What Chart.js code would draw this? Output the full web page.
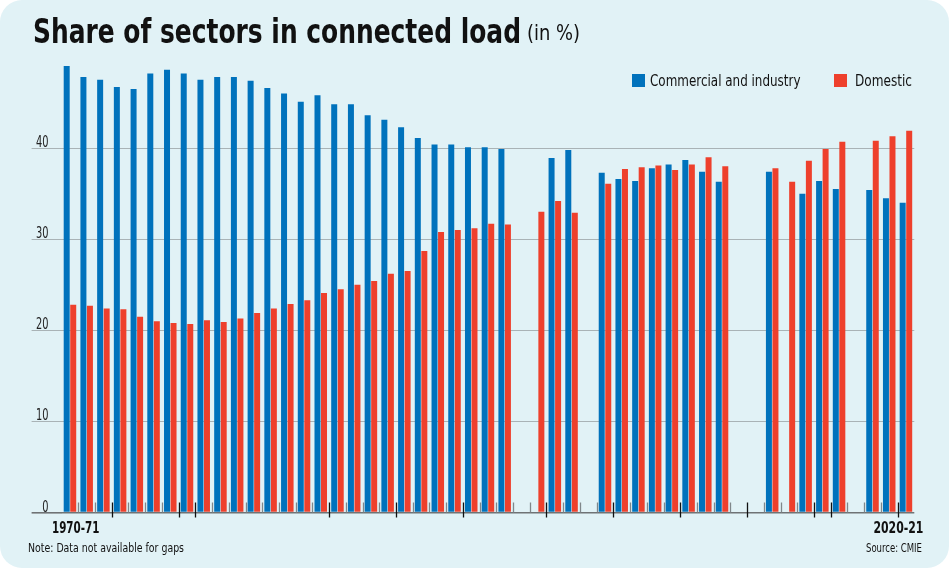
<!DOCTYPE html>
<html>
<head>
<meta charset="utf-8">
<script src="https://cdn.jsdelivr.net/npm/chart.js@4.4.1/dist/chart.umd.min.js"></script>
<style>
  body { margin: 0; background: #fff; }
  #card { position: relative; width: 949px; height: 568px; background: #e1f2f6; border-radius: 22px; overflow: hidden;
          font-family: "Liberation Sans Narrow", "DejaVu Sans Condensed", "Noto Sans", sans-serif; color: #111; }
  #chart { position: absolute; left: 0; top: 0; }
  .txt { position: absolute; white-space: nowrap; line-height: 1; transform-origin: left top; }
  #title { left: 33px; top: 15px; font-size: 33px; font-weight: bold; }
  #unit { left: 527px; top: 22px; font-size: 22px; }
  #note { left: 28px; top: 541px; font-size: 13px; }
  #source { left: 866px; top: 541px; font-size: 13px; }
  .lg-box { position: absolute; width: 13px; height: 13px; }
  .lg-txt { position: absolute; white-space: nowrap; line-height: 1; font-size: 16px; transform-origin: left top; }
</style>
</head>
<body>
<div id="card">
  <canvas id="chart" width="949" height="568"></canvas>
  <div class="txt" id="title" data-w="488">Share of sectors in connected load</div>
  <div class="txt" id="unit" data-w="53">(in %)</div>
  <div id="legend"></div>
  <div class="txt" id="note" data-w="156">Note: Data not available for gaps</div>
  <div class="txt" id="source" data-w="56">Source: CMIE</div>
</div>
<script>
var labels = ['1970-71','1971-72','1972-73','1973-74','1974-75','1975-76','1976-77','1977-78','1978-79','1979-80',
              '1980-81','1981-82','1982-83','1983-84','1984-85','1985-86','1986-87','1987-88','1988-89','1989-90',
              '1990-91','1991-92','1992-93','1993-94','1994-95','1995-96','1996-97','1997-98','1998-99','1999-00',
              '2000-01','2001-02','2002-03','2003-04','2004-05','2005-06','2006-07','2007-08','2008-09','2009-10',
              '2010-11','2011-12','2012-13','2013-14','2014-15','2015-16','2016-17','2017-18','2018-19','2019-20',
              '2020-21'];
var commercial = [49.0, 47.8, 47.5, 46.7, 46.5, 48.2, 48.6, 48.2, 47.5, 47.8,
                  47.8, 47.4, 46.6, 46.0, 45.1, 45.8, 44.8, 44.8, 43.6, 43.1,
                  42.3, 41.1, 40.4, 40.4, 40.1, 40.1, 39.9, null, null, 38.9,
                  39.8, null, 37.3, 36.6, 36.4, 37.8, 38.2, 38.7, 37.4, 36.3,
                  null, null, 37.4, null, 35.0, 36.4, 35.5, null, 35.4, 34.5,
                  34.0];
var domestic = [22.8, 22.7, 22.4, 22.3, 21.5, 21.0, 20.8, 20.7, 21.1, 20.9,
                21.3, 21.9, 22.4, 22.9, 23.3, 24.1, 24.5, 25.0, 25.4, 26.2,
                26.5, 28.7, 30.8, 31.0, 31.2, 31.7, 31.6, null, 33.0, 34.2,
                32.9, null, 36.1, 37.7, 37.9, 38.1, 37.6, 38.2, 39.0, 38.0,
                null, null, 37.8, 36.3, 38.6, 39.9, 40.7, null, 40.8, 41.3,
                41.9];
var yTicks = [0, 10, 20, 30, 40];
var seriesNames = ['Commercial and industry', 'Domestic'];
var seriesColors = ['#0072bc', '#ee402c'];
var majorTicks = [3, 7, 8, 16, 20, 24, 29, 33, 37, 41, 45, 46, 50];

var condensed = '"Liberation Sans Narrow", "DejaVu Sans Condensed", "Noto Sans", sans-serif';

// text squeezed to a width, like the narrow face of the original
function fitText(ctx, text, x, y, align, width) {
    var w = ctx.measureText(text).width;
    ctx.save();
    ctx.translate(x, y);
    ctx.scale(width / w, 1);
    ctx.textAlign = align;
    ctx.fillText(text, 0, 0);
    ctx.restore();
}

// small tick marks on the axis, y labels, end labels
var axisTicks = {
    id: 'axisTicks',
    afterDatasetsDraw: function(chart) {
        var x = chart.scales.x, y = chart.scales.y, ctx = chart.ctx;
        var base = y.getPixelForValue(0);
        var step = x.getPixelForValue(1) - x.getPixelForValue(0);
        ctx.save();
        for (var i = 1; i < labels.length; i++) {
            var px = Math.round(x.getPixelForValue(i) - step / 2) + 0.5;
            var major = majorTicks.indexOf(i) >= 0;
            ctx.strokeStyle = major ? '#111' : '#80878a';
            ctx.lineWidth = 1.3;
            ctx.beginPath();
            ctx.moveTo(px, base - 10);
            ctx.lineTo(px, base + (major ? 5 : 0));
            ctx.stroke();
        }
        ctx.textBaseline = 'alphabetic';

        ctx.fillStyle = '#222';
        ctx.font = '15px ' + condensed;
        var k = 12.5 / ctx.measureText('40').width;
        yTicks.forEach(function(v) {
            var t = String(v);
            fitText(ctx, t, 48.5, y.getPixelForValue(v) - 1, 'right', ctx.measureText(t).width * k);
        });

        ctx.fillStyle = '#111';
        ctx.font = 'bold 16px ' + condensed;
        var first = labels[0], last = labels[labels.length - 1];
        fitText(ctx, first, x.getPixelForValue(0) - 18, base + 20.5, 'left', 47.5);
        fitText(ctx, last, x.getPixelForValue(labels.length - 1) + 17.5, base + 20.5, 'right', 50);
        ctx.restore();
    }
};

var ctx = document.getElementById('chart').getContext('2d');
var myChart = new Chart(ctx, {
    type: 'bar',
    data: {
        labels: labels,
        datasets: [
            { label: seriesNames[0], data: commercial, backgroundColor: seriesColors[0] },
            { label: seriesNames[1], data: domestic, backgroundColor: seriesColors[1] }
        ]
    },
    options: {
        responsive: false,
        animation: false,
        devicePixelRatio: 1,
        layout: { padding: { left: 31.6, right: 34.7, top: 57, bottom: 55.5 } },
        datasets: { bar: { categoryPercentage: 0.78, barPercentage: 0.92 } },
        plugins: { legend: { display: false }, tooltip: { enabled: false } },
        scales: {
            x: {
                ticks: { display: false },
                grid: { display: false },
                border: { display: false },
                afterFit: function(s) { s.height = 0; }
            },
            y: {
                min: 0,
                max: 50,
                afterBuildTicks: function(s) { s.ticks = yTicks.map(function(v) { return { value: v }; }); },
                afterFit: function(s) { s.width = 30; },
                border: { display: false },
                grid: {
                    tickLength: 30,
                    color: function(c) { return c.tick && c.tick.value === 0 ? '#6f7375' : '#a9b3b6'; },
                    lineWidth: function(c) { return c.tick && c.tick.value === 0 ? 1.6 : 1; }
                },
                ticks: { display: false }
            }
        }
    },
    plugins: [axisTicks]
});

// legend built from the series
var legendPos = [{ box: 631.5, txt: 649.5, w: 150.5 }, { box: 833.5, txt: 855, w: 57 }];
var legend = document.getElementById('legend');
seriesNames.forEach(function(name, i) {
    var b = document.createElement('div');
    b.className = 'lg-box';
    b.style.left = legendPos[i].box + 'px';
    b.style.top = '74px';
    b.style.background = seriesColors[i];
    legend.appendChild(b);
    var t = document.createElement('div');
    t.className = 'lg-txt';
    t.style.left = legendPos[i].txt + 'px';
    t.style.top = '73px';
    t.setAttribute('data-w', legendPos[i].w);
    t.textContent = name;
    legend.appendChild(t);
});

// squeeze text to the widths in the picture
document.querySelectorAll('[data-w]').forEach(function(el) {
    var w = el.getBoundingClientRect().width;
    el.style.transform = 'scaleX(' + (parseFloat(el.getAttribute('data-w')) / w) + ')';
});
</script>
</body>
</html>
